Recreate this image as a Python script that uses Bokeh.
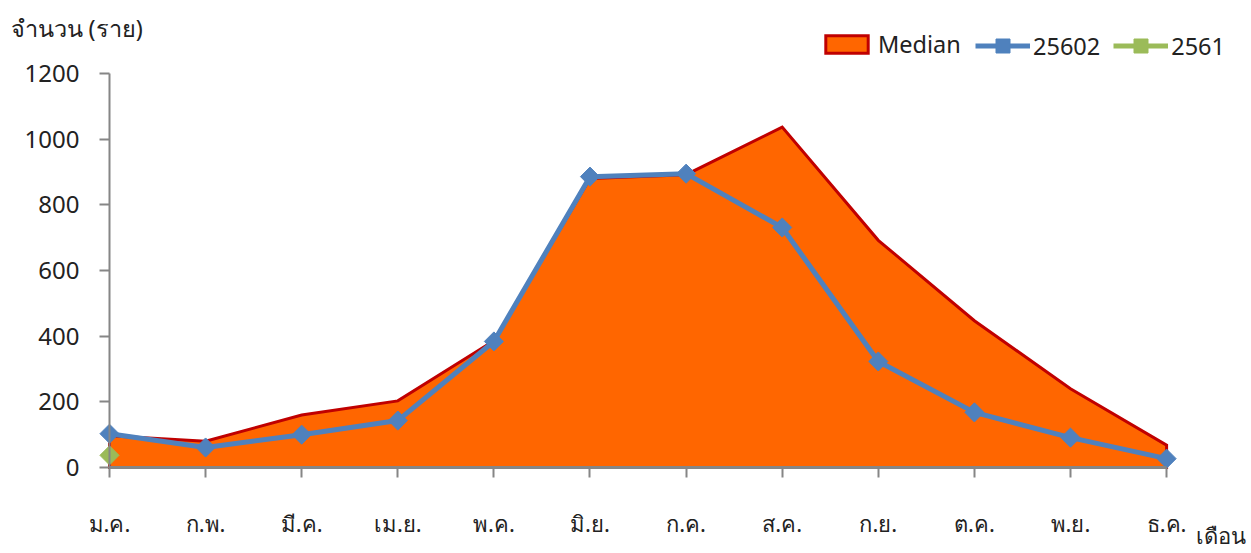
import math
from bokeh.plotting import figure
from bokeh.models import (FixedTicker, Label, Legend, LegendItem, ColumnDataSource)
from bokeh.embed import file_html
from bokeh.resources import INLINE

months = ["ม.ค.", "ก.พ.", "มี.ค.", "เม.ย.", "พ.ค.", "มิ.ย.", "ก.ค.", "ส.ค.", "ก.ย.", "ต.ค.", "พ.ย.", "ธ.ค."]
median = [97, 80, 160, 203, 386, 880, 892, 1037, 692, 447, 240, 68]
y2560 = [103, 61, 100, 143, 384, 886, 895, 731, 323, 168, 91, 27]
y2561 = [37]
y_ticks = [0, 200, 400, 600, 800, 1000, 1200]

FONT = "Noto Sans"
ORANGE = "#FF6600"
RED = "#C00000"
BLUE = "#4F81BD"
GREEN = "#9BBB59"
AXIS = "#868686"
TXT = "#222222"

xi = list(range(len(months)))

p = figure(width=1251, height=553, x_range=(-1.1342, 11.8835), y_range=(-261.9, 1422.5),
           output_backend="svg", toolbar_location=None, min_border=0)
p.outline_line_color = None
p.grid.visible = False
p.background_fill_color = "white"

# median area (closed polygon down to the axis)
area_x = xi + [xi[-1], xi[0]]
area_y = median + [0, 0]
pm = p.patch(x=area_x, y=area_y, fill_color=ORANGE, line_color=RED, line_width=3,
             line_join="miter")

# 2560 line
src_b = ColumnDataSource(dict(x=xi, y=y2560))
lb = p.line(x="x", y="y", source=src_b, line_color=BLUE, line_width=5)
mb = p.scatter(x="x", y="y", source=src_b, marker="square", angle=math.pi / 4, size=13.5,
               fill_color=BLUE, line_color=BLUE)

# 2561
src_g = ColumnDataSource(dict(x=xi[:len(y2561)], y=y2561))
lg = p.line(x="x", y="y", source=src_g, line_color=GREEN, line_width=5)
mg = p.scatter(x="x", y="y", source=src_g, marker="square", angle=math.pi / 4, size=13.5,
               fill_color=GREEN, line_color=GREEN)

# axes
p.xaxis.fixed_location = 0
p.yaxis.fixed_location = 0
p.xaxis.bounds = (0, len(months) - 1)
p.yaxis.bounds = (0, 1200)
p.xaxis.ticker = FixedTicker(ticks=xi)
p.xaxis.major_label_overrides = {i: m for i, m in enumerate(months)}
p.yaxis.ticker = FixedTicker(ticks=y_ticks)
for ax in (p.xaxis, p.yaxis):
    ax.axis_line_color = AXIS
    ax.axis_line_width = 2
    ax.major_tick_line_color = AXIS
    ax.major_tick_line_width = 2
    ax.major_tick_out = 10
    ax.major_tick_in = 0
    ax.minor_tick_line_color = None
    ax.major_label_text_font = FONT
    ax.major_label_text_color = TXT
p.xaxis.axis_line_width = 3
p.xaxis.major_label_text_font_size = "22px"
p.yaxis.major_label_text_font_size = "24px"
p.xaxis.major_label_standoff = 30
p.yaxis.major_label_standoff = 20

p.add_layout(Label(x=-1.03, y=1340, text="จำนวน (ราย)", text_font=FONT, text_font_size="23.5px",
                   text_color=TXT, text_baseline="middle", text_align="left"))
p.add_layout(Label(x=11.31, y=-206, text="เดือน", text_font=FONT, text_font_size="22px",
                   text_color=TXT, text_baseline="middle", text_align="left"))

common = dict(orientation="horizontal", label_text_font=FONT, label_text_font_size="23.5px",
              label_text_color=TXT, padding=0, margin=0, border_line_color=None,
              background_fill_alpha=0)
legend1 = Legend(items=[LegendItem(label="Median", renderers=[pm])],
                 location=(820, 493), glyph_width=53, glyph_height=22, label_standoff=5,
                 **common)
legend2 = Legend(items=[LegendItem(label="25602", renderers=[lb, mb]),
                        LegendItem(label="2561", renderers=[lg, mg])],
                 location=(975, 490), glyph_width=55, glyph_height=35, label_standoff=3,
                 spacing=13, **common)
p.add_layout(legend1, "center")
p.add_layout(legend2, "center")

open("out.html", "w").write(file_html(p, INLINE))
